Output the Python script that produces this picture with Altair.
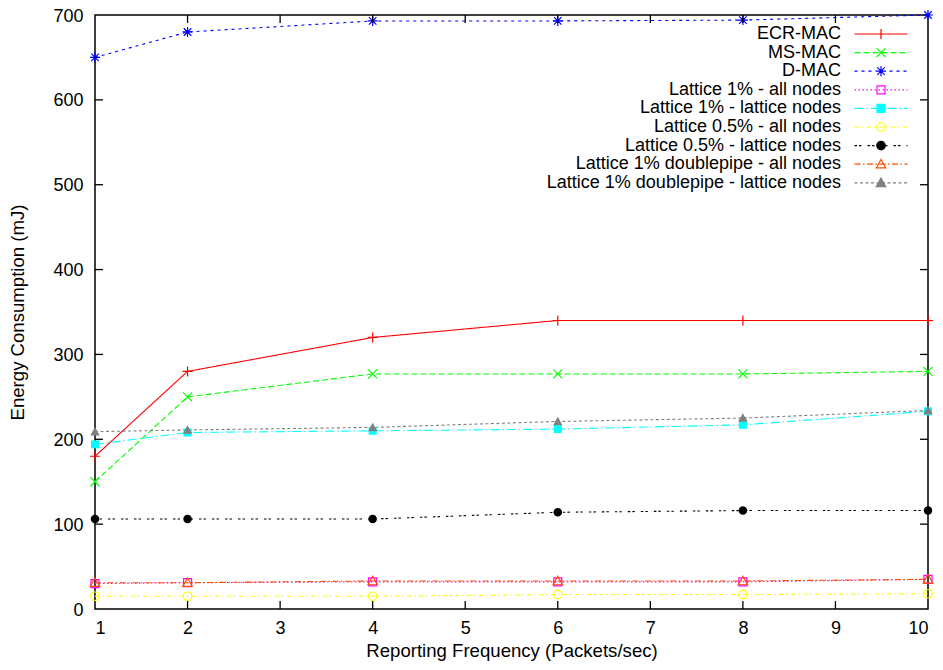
import altair as alt
import pandas as pd

# ---------------- data ----------------
x_vals = [1, 2, 4, 6, 8, 10]
series_names = [
    "ECR-MAC",
    "MS-MAC",
    "D-MAC",
    "Lattice 1% - all nodes",
    "Lattice 1% - lattice nodes",
    "Lattice 0.5% - all nodes",
    "Lattice 0.5% - lattice nodes",
    "Lattice 1% doublepipe - all nodes",
    "Lattice 1% doublepipe - lattice nodes",
]
ecr_mac = [180, 280, 320, 340, 340, 340]
ms_mac = [150, 250, 277, 277, 277, 280]
d_mac = [650, 680, 693, 693, 694, 700]
lat1_all = [30, 31, 32, 32, 32, 35]
lat1_lat = [194, 208, 210, 212, 217, 233]
lat05_all = [15, 15, 15, 17, 17, 18]
lat05_lat = [106, 106, 106, 114, 116, 116]
dp_all = [31, 31, 33, 33, 33, 35]
dp_lat = [209, 211, 214, 221, 225, 234]
series_values = [ecr_mac, ms_mac, d_mac, lat1_all, lat1_lat,
                 lat05_all, lat05_lat, dp_all, dp_lat]

x_ticks = [2, 3, 4, 5, 6, 7, 8, 9]
y_ticks = [100, 200, 300, 400, 500, 600]

# ---------------- styles ----------------
colors = ["#ff0000", "#00ff00", "#0000ff", "#ff00ff", "#00ffff",
          "#ffff00", "#000000", "#ff4d00", "#808080"]
dashes = [[1, 0], [6, 3], [3, 4], [1.5, 2.5], [9, 3, 1.5, 3],
          [4.5, 3, 1.5, 3], [2.5, 2, 2.5, 6], [6, 2.5, 1.5, 2.5], [3, 2.5]]
marker_kind = ["plus", "x", "star", "square", "square",
               "circle", "circle", "triangle", "triangle"]
marker_filled = [False, False, False, False, True, False, True, False, True]

MARKER_PATHS = {
    "plus": "M-1,0H1M0,-1V1",
    "x": "M-0.9,-0.9L0.9,0.9M-0.9,0.9L0.9,-0.9",
    "star": "M-1,0H1M0,-1V1M-0.75,-0.75L0.75,0.75M-0.75,0.75L0.75,-0.75",
    "square": "M-0.8,-0.8H0.8V0.8H-0.8Z",
    "circle": "M0.85,0A0.85,0.85,0,1,1,-0.85,0A0.85,0.85,0,1,1,0.85,0Z",
    "triangle": "M0,-0.95L0.95,0.75H-0.95Z",
}
UNIT = 5.0        # px per path unit for symbol size 100
HALF_LEN = 26.5   # half length of legend sample line in px


def legend_path(dash, kind):
    segs = []
    pos = -HALF_LEN
    i = 0
    while pos < HALF_LEN:
        on = dash[i % len(dash)]
        off = dash[(i + 1) % len(dash)]
        end = min(pos + on, HALF_LEN)
        if end > pos:
            segs.append("M%.2f,0H%.2f" % (pos / UNIT, end / UNIT))
        pos = end + off
        i += 2
    return "".join(segs) + MARKER_PATHS[kind]


legend_paths = [legend_path(d, k) for d, k in zip(dashes, marker_kind)]
fill_range = [c if f else "transparent" for c, f in zip(colors, marker_filled)]
legend_keys = ["%d|%s" % (i, n) for i, n in enumerate(series_names)]

rows = []
for i, (name, vals) in enumerate(zip(series_names, series_values)):
    for xv, yv in zip(x_vals, vals):
        rows.append({"series": name, "key": legend_keys[i], "x": xv, "y": yv})
df = pd.DataFrame(rows)

FONT = "Liberation Sans"
X_TITLE = "Reporting Frequency (Packets/sec)"
Y_TITLE = "Energy Consumption (mJ)"
xscale = alt.Scale(domain=[1, 10], nice=False, zero=False)
yscale = alt.Scale(domain=[0, 700], nice=False, zero=False)
cscale = alt.Scale(domain=series_names, range=colors)
dscale = alt.Scale(domain=series_names, range=dashes)

x_axis = alt.Axis(values=list(range(1, 11)), tickSize=0, domain=False, grid=False,
                  labelPadding=10, titlePadding=4.5, labelFontSize=18, titleFontSize=18.6,
                  labelFont=FONT, titleFont=FONT, labelColor="black", titleColor="black",
                  titleFontWeight="normal")
y_axis = alt.Axis(values=list(range(0, 701, 100)), tickSize=0, domain=False, grid=False,
                  labelPadding=12, titlePadding=25, labelFontSize=18, titleFontSize=18.6,
                  labelOffset=1, labelFont=FONT, titleFont=FONT, labelColor="black",
                  titleColor="black", titleFontWeight="normal")


def X(field="x"):
    return alt.X(field + ":Q", scale=xscale, axis=x_axis, title=X_TITLE)


def Y(field="y"):
    return alt.Y(field + ":Q", scale=yscale, axis=y_axis, title=Y_TITLE)


lines = alt.Chart(df).mark_line(strokeWidth=1.1).encode(
    x=X(), y=Y(),
    color=alt.Color("series:N", scale=cscale, legend=None),
    strokeDash=alt.StrokeDash("series:N", scale=dscale, legend=None),
    detail="series:N",
)

point_layers = []
for name, kind, fl in zip(series_names, marker_kind, marker_filled):
    pl = alt.Chart(df).transform_filter(
        alt.datum.series == name
    ).mark_point(shape=MARKER_PATHS[kind], size=100, filled=fl, opacity=1,
                 strokeWidth=1.2).encode(
        x=X(), y=Y(),
        color=alt.Color("series:N", scale=cscale, legend=None),
    )
    point_layers.append(pl)

leg = alt.Legend(title=None, orient="none", legendX=777, legendY=10,
                 labelAlign="right", labelOffset={"expr": "-49"}, labelFontSize=18,
                 labelFont=FONT, labelColor="black", labelLimit=600,
                 labelExpr="split(datum.label, '|')[1]",
                 symbolSize=100, symbolStrokeWidth=1.2, rowPadding=0.6,
                 padding=0, symbolOpacity=1)

legend_layer = alt.Chart(df).transform_filter("false").mark_point(
    opacity=1, size=100).encode(
    x=X(), y=Y(),
    shape=alt.Shape("key:N", scale=alt.Scale(domain=legend_keys, range=legend_paths), legend=leg),
    stroke=alt.Stroke("key:N", scale=alt.Scale(domain=legend_keys, range=colors), legend=leg),
    fill=alt.Fill("key:N", scale=alt.Scale(domain=legend_keys, range=fill_range), legend=leg),
)

xt = pd.DataFrame({"x": x_ticks})
yt = pd.DataFrame({"y": y_ticks})
TICK = 8
tick_style = dict(color="black", strokeWidth=1.3)
xb = alt.Chart(xt).mark_rule(**tick_style).encode(
    x=X(), y=alt.value(594), y2=alt.value(594 - TICK))
xtop = alt.Chart(xt).mark_rule(**tick_style).encode(
    x=X(), y=alt.value(0), y2=alt.value(TICK))
yl = alt.Chart(yt).mark_rule(**tick_style).encode(
    y=Y(), x=alt.value(0), x2=alt.value(TICK))
yr = alt.Chart(yt).mark_rule(**tick_style).encode(
    y=Y(), x=alt.value(833), x2=alt.value(833 - TICK))

chart = alt.layer(lines, *point_layers, legend_layer, xb, xtop, yl, yr).properties(
    width=833, height=594,
    autosize=alt.AutoSizeParams(type="none"),
    padding={"left": 87, "top": 7, "right": 7, "bottom": 53},
    background="white",
).configure_view(stroke="black", strokeWidth=1.5)

chart.save("out.html", embed_options={"renderer": "svg", "actions": False})
